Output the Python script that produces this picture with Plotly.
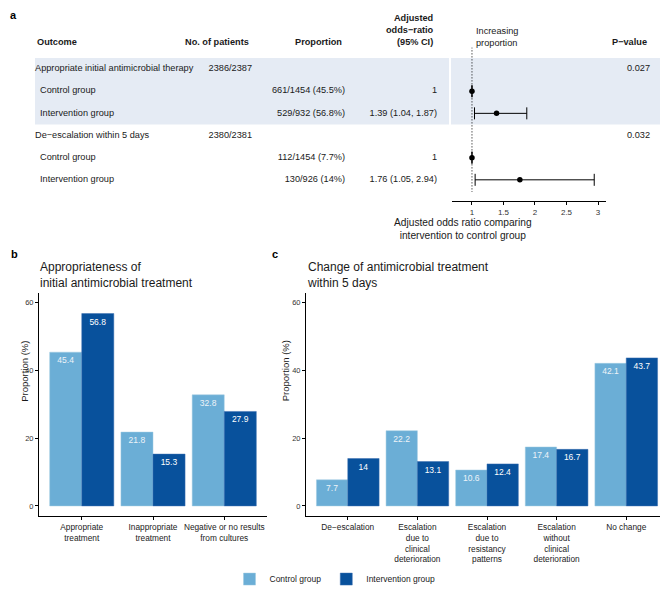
import plotly.graph_objects as go

# ---- data ----
outcomes = ["Appropriate initial antimicrobial therapy", "Control group", "Intervention group",
            "De\u2212escalation within 5 days", "Control group", "Intervention group"]
n_patients = ["2386/2387", "", "", "2380/2381", "", ""]
proportions = ["", "661/1454 (45.5%)", "529/932 (56.8%)", "", "112/1454 (7.7%)", "130/926 (14%)"]
or_labels = ["", "1", "1.39 (1.04, 1.87)", "", "1", "1.76 (1.05, 2.94)"]
p_values = ["0.027", "", "", "0.032", "", ""]
or_est = [None, 1, 1.39, None, 1, 1.76]
or_low = [None, 1, 1.04, None, 1, 1.05]
or_high = [None, 1, 1.87, None, 1, 2.94]
or_ticks = [1, 1.5, 2, 2.5, 3]

b_cats = ["Appropriate<br>treatment", "Inappropriate<br>treatment", "Negative or no results<br>from cultures"]
b_control = [45.4, 21.8, 32.8]
b_interv = [56.8, 15.3, 27.9]

c_cats = ["De\u2212escalation", "Escalation<br>due to<br>clinical<br>deterioration",
          "Escalation<br>due to<br>resistancy<br>patterns",
          "Escalation<br>without<br>clinical<br>deterioration", "No change"]
c_control = [7.7, 22.2, 10.6, 17.4, 42.1]
c_interv = [14, 13.1, 12.4, 16.7, 43.7]

LIGHT = "#6baed6"
DARK = "#08519c"
BAND = "#e5ebf4"
FONT = "Liberation Sans, Arial, sans-serif"

# the page body has an 8px margin, so the figure sits at (8, 8) in the window
OFF = 8
W, H = 668 - OFF, 602 - 2 * OFF


def px(x):
    return (x - OFF) / W


def py(y):
    return 1 - (y - OFF) / H


rows = list(range(1, len(outcomes) + 1))
# row r sits at window pixel 70 + (r-1)*22.5; axis spans pixels 48..204
row_top, row_bot = 1 + (48 - 70) / 22.5, 1 + (204 - 70) / 22.5

fig = go.Figure()

# ---- panel a: table text ----
tfont = dict(family=FONT, size=9.2, color="#1a1a1a")
col_x = lambda x: x - OFF
fig.add_trace(go.Scatter(
    x=[col_x(35) if n else col_x(40) for n in n_patients], y=rows, text=outcomes, mode="text",
    textposition="middle right", textfont=tfont, xaxis="x2", yaxis="y", showlegend=False))
for vals, right in [(n_patients, 252), (proportions, 345), (or_labels, 437), (p_values, 650)]:
    fig.add_trace(go.Scatter(
        x=[col_x(right)] * len(rows), y=rows, text=vals, mode="text",
        textposition="middle left", textfont=tfont, xaxis="x2", yaxis="y", showlegend=False))

# ---- panel a: forest plot ----
fig.add_trace(go.Scatter(
    x=or_est, y=rows, mode="markers",
    marker=dict(color="black", size=5.5),
    error_x=dict(type="data", symmetric=False,
                 array=[None if e is None else h - e for e, h in zip(or_est, or_high)],
                 arrayminus=[None if e is None else e - l for e, l in zip(or_est, or_low)],
                 color="black", thickness=1, width=6),
    xaxis="x", yaxis="y", showlegend=False))

# ---- panels b and c ----
bar_font_l = dict(family=FONT, size=8.5, color="#eef3f8")
bar_font_d = dict(family=FONT, size=8.5, color="white")
for cats, ctrl, intv, xa, ya, leg in [(b_cats, b_control, b_interv, "x3", "y3", True),
                                      (c_cats, c_control, c_interv, "x4", "y4", False)]:
    fig.add_trace(go.Bar(x=cats, y=ctrl, name="Control group",
                         marker=dict(color=LIGHT, line=dict(color="#9ecae1", width=0.5)),
                         text=ctrl, textposition="inside", insidetextanchor="end", showlegend=leg,
                         textfont=bar_font_l, xaxis=xa, yaxis=ya))
    fig.add_trace(go.Bar(x=cats, y=intv, name="Intervention group",
                         marker=dict(color=DARK, line=dict(color="#3a6fb0", width=0.5)),
                         text=intv, textposition="inside", insidetextanchor="end", showlegend=leg,
                         textfont=bar_font_d, xaxis=xa, yaxis=ya))

axis_common = dict(showgrid=False, zeroline=False, showline=True, linecolor="black", linewidth=1,
                   ticks="outside", ticklen=3, tickcolor="black")
xtick_font = dict(family=FONT, size=8.3, color="#222")
ytick_font = dict(family=FONT, size=7.5, color="#333")

fig.update_layout(
    width=W, height=H, margin=dict(l=0, r=0, t=0, b=0),
    paper_bgcolor="white", plot_bgcolor="rgba(0,0,0,0)",
    barmode="group", bargap=0.1, bargroupgap=0,
    uniformtext=dict(minsize=7, mode="show"),
    font=dict(family=FONT, color="#1a1a1a"),
    xaxis=dict(domain=[px(452), px(606)], range=[0.683, 3.127], anchor="y",
               tickvals=or_ticks, ticktext=[f"{t:g}" for t in or_ticks],
               tickfont=dict(family=FONT, size=8, color="#333"), **axis_common),
    xaxis2=dict(domain=[0, 1], range=[0, W], anchor="y", visible=False),
    yaxis=dict(domain=[py(204), py(48)], range=[row_bot, row_top], visible=False),
    xaxis3=dict(domain=[px(39), px(267)], range=[-0.6, 2.6], anchor="y3",
                tickfont=xtick_font, **axis_common),
    yaxis3=dict(domain=[py(524), py(297)], range=[-3, 63], anchor="x3",
                tickvals=[0, 20, 40, 60], tickfont=ytick_font, **axis_common),
    xaxis4=dict(domain=[px(306), 1], range=[-0.6, 4.6], anchor="y4",
                tickfont=xtick_font, **axis_common),
    yaxis4=dict(domain=[py(524), py(297)], range=[-3, 63], anchor="x4",
                tickvals=[0, 20, 40, 60], tickfont=ytick_font, **axis_common),
    legend=dict(orientation="h", x=px(335), xanchor="center", y=py(588), yanchor="middle",
                font=dict(family=FONT, size=8.5, color="#1a1a1a"), itemwidth=30),
)

# shaded band behind the first outcome block
fig.add_shape(type="rect", xref="paper", yref="y", x0=px(35), x1=px(449), y0=0.5, y1=3.5,
              fillcolor=BAND, line_width=0, layer="below")
fig.add_shape(type="rect", xref="paper", yref="y", x0=px(451), x1=1, y0=0.5, y1=3.5,
              fillcolor=BAND, line_width=0, layer="below")
# reference line at OR = 1
fig.add_shape(type="line", xref="x", yref="y", x0=1, x1=1, y0=row_top, y1=6.55,
              line=dict(color="black", width=1, dash="1px,2px"))

hfont = dict(family=FONT, size=9.2, color="#1a1a1a")
bold = lambda s: f"<b>{s}</b>"
ann = [
    dict(x=px(35), y=py(43), text=bold("Outcome"), xanchor="left"),
    dict(x=px(251), y=py(43), text=bold("No. of patients"), xanchor="right"),
    dict(x=px(344), y=py(43), text=bold("Proportion"), xanchor="right"),
    dict(x=px(436), y=py(30), text=bold("Adjusted<br>odds\u2212ratio<br>(95% CI)"), xanchor="right", align="right"),
    dict(x=px(649), y=py(43), text=bold("P\u2212value"), xanchor="right"),
    dict(x=px(474), y=py(37), text="Increasing<br>proportion", xanchor="left", align="left"),
]
for a in ann:
    fig.add_annotation(xref="paper", yref="paper", yanchor="middle", showarrow=False, font=hfont, **a)

fig.add_annotation(xref="paper", yref="paper", x=px(534), y=py(232), yanchor="middle",
                   text="Adjusted odds ratio comparing<br>intervention to control group",
                   showarrow=False, font=dict(family=FONT, size=10.2, color="#1a1a1a"))

fig.add_annotation(xref="paper", yref="paper", x=px(9), y=1, xanchor="left", yanchor="top",
                   text=bold("a"), showarrow=False, borderpad=0,
                   font=dict(family=FONT, size=11, color="black"))
for lbl, x, y in [("b", 9, 258), ("c", 270, 258)]:
    fig.add_annotation(xref="paper", yref="paper", x=px(x), y=py(y), xanchor="left", yanchor="middle",
                       text=bold(lbl), showarrow=False, font=dict(family=FONT, size=11, color="black"))

for title, x in [("Appropriateness of<br>initial antimicrobial treatment", 38),
                 ("Change of antimicrobial treatment<br>within 5 days", 305)]:
    fig.add_annotation(xref="paper", yref="paper", x=px(x), y=py(279), xanchor="left", yanchor="middle",
                       align="left", text=title, showarrow=False,
                       font=dict(family=FONT, size=12, color="#1a1a1a"))

for x in [17, 285]:
    fig.add_annotation(xref="paper", yref="paper", x=px(x), y=py(410), textangle=-90,
                       text="Proportion (%)", showarrow=False,
                       font=dict(family=FONT, size=9.5, color="#1a1a1a"))

fig.write_html("out.html")
